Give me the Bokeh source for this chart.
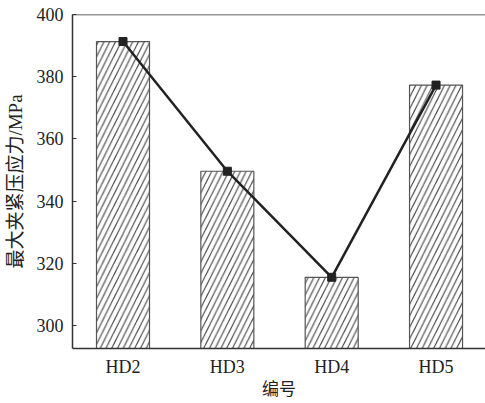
from bokeh.plotting import figure
from bokeh.models import Range1d, FixedTicker, Span
from bokeh.embed import file_html
from bokeh.resources import INLINE

categories = ["HD2", "HD3", "HD4", "HD5"]
stress = [391.3, 349.6, 315.5, 377.3]
y_ticks = [300, 320, 340, 360, 380, 400]

xs = list(range(len(categories)))

p = figure(width=485, height=403, output_backend="svg", toolbar_location=None,
           x_range=Range1d(-0.484, 3.474), y_range=Range1d(292.6, 400),
           min_border_left=72, min_border_top=14, min_border_right=0, min_border_bottom=55)
p.outline_line_color = None
p.grid.visible = False
p.background_fill_color = "white"

p.vbar(x=xs, top=stress, bottom=292.6, width=0.508, fill_color="white",
       line_color="#555555", line_width=1.2,
       hatch_pattern="/", hatch_color="#444444", hatch_scale=11.5, hatch_weight=1.1)
p.line(xs, stress, line_color="#222222", line_width=2.5)
p.scatter(xs, stress, marker="square", size=8, color="#222222")

p.add_layout(Span(location=400, dimension="width", line_color="#333333", line_width=1.5))

serif = "Liberation Serif"
cjk = "Liberation Serif, Noto Sans CJK SC"

p.yaxis.ticker = FixedTicker(ticks=y_ticks)
p.yaxis.major_tick_in = 4
p.yaxis.major_tick_out = 0
p.yaxis.minor_tick_line_color = None
p.yaxis.major_label_standoff = 9
p.yaxis.axis_label = "最大夹紧压应力/MPa"
p.yaxis.axis_label_standoff = 8

p.xaxis.ticker = FixedTicker(ticks=xs)
p.xaxis.major_label_overrides = {i: c for i, c in enumerate(categories)}
p.xaxis.major_tick_line_color = None
p.xaxis.minor_tick_line_color = None
p.xaxis.major_tick_in = 0
p.xaxis.major_tick_out = 0
p.xaxis.major_label_standoff = 8
p.xaxis.axis_label = "编号"
p.xaxis.axis_label_standoff = 0

for ax in (p.xaxis, p.yaxis):
    ax.axis_line_color = "#333333"
    ax.axis_line_width = 1.5
    ax.major_label_text_font = serif
    ax.major_label_text_font_size = "18px"
    ax.major_label_text_color = "#222222"
    ax.axis_label_text_font = cjk
    ax.axis_label_text_font_style = "normal"
    ax.axis_label_text_color = "#222222"
p.yaxis.major_tick_line_color = "#333333"
p.yaxis.axis_label_text_font_size = "19px"
p.xaxis.axis_label_text_font_size = "17px"

open("out.html", "w").write(file_html(p, INLINE))
